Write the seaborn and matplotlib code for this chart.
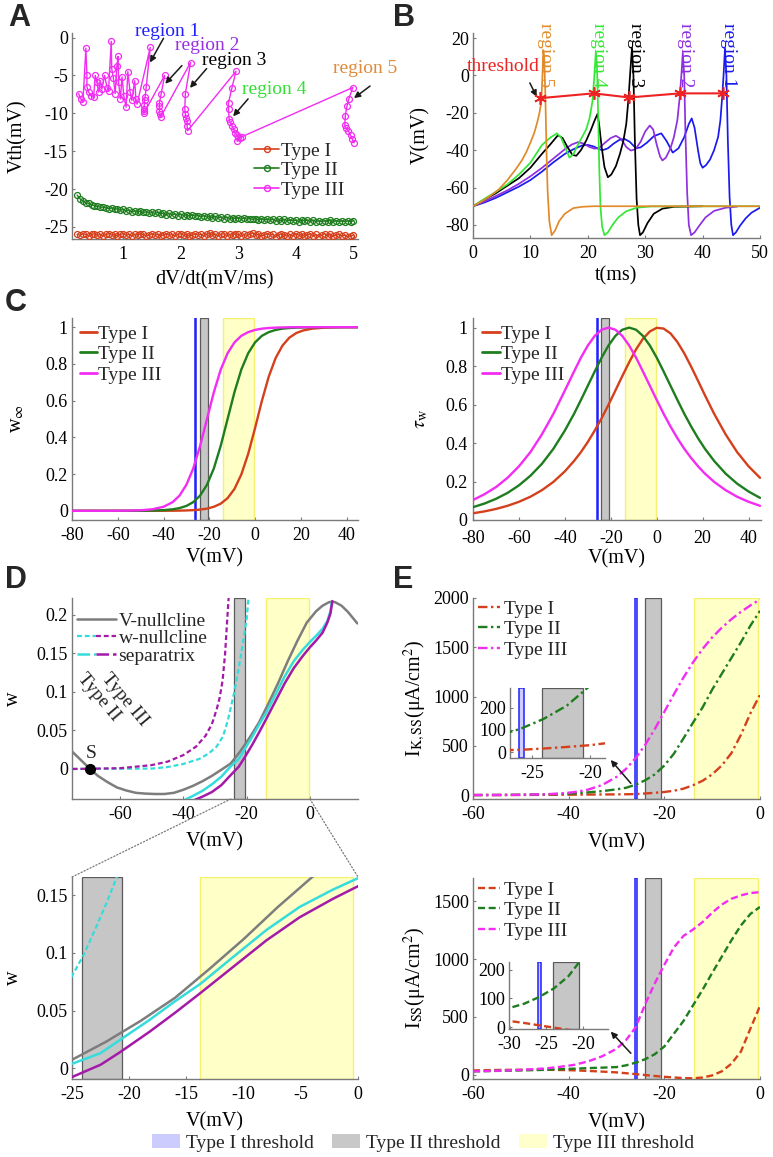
import numpy as np
import matplotlib
matplotlib.use("Agg")
import matplotlib.pyplot as plt
import seaborn as sns
from matplotlib.lines import Line2D
from matplotlib.patches import Patch, ConnectionPatch
from matplotlib.legend_handler import HandlerTuple
from matplotlib.ticker import FuncFormatter

# ---------------- DATA ----------------
# Panel A : threshold vs dV/dt
A_x12 = np.round(np.arange(0.20, 5.001, 0.05), 2)
A_typeI = [-26.0,-26.1,-25.9,-26.0,-26.2,-26.0,-25.9,-26.1,-26.0,-26.2,
           -26.0,-25.9,-26.1,-26.0,-26.2,-26.0,-25.9,-26.1,-26.0,-26.2,
           -26.0,-26.1,-25.9,-26.0,-26.2,-26.1,-25.9,-26.1,-26.0,-26.2,
           -26.1,-25.9,-26.1,-26.0,-26.2,-26.0,-25.9,-26.1,-26.0,-26.2,
           -26.1,-25.9,-26.1,-26.0,-26.2,-26.0,-25.8,-26.1,-26.0,-26.2,
           -26.0,-25.9,-26.2,-26.0,-26.1,-25.9,-26.0,-26.2,-26.0,-26.1,
           -26.0,-25.8,-26.1,-26.0,-26.2,-26.1,-25.9,-26.1,-26.0,-26.3,
           -26.1,-25.9,-26.1,-26.2,-26.0,-26.2,-25.9,-26.1,-26.0,-26.2,
           -26.1,-25.9,-26.2,-26.0,-26.3,-26.1,-25.9,-26.2,-26.0,-26.2,
           -26.1,-26.0,-26.2,-26.1,-26.3,-26.2,-26.1]
A_typeII = [-20.8,-21.3,-21.6,-21.8,-21.9,-22.1,-22.2,-22.3,-22.4,-22.4,
            -22.5,-22.6,-22.5,-22.7,-22.6,-22.8,-22.7,-22.9,-22.8,-23.0,
            -22.9,-23.1,-22.9,-23.1,-23.0,-23.2,-23.1,-23.2,-23.1,-23.3,
            -23.2,-23.4,-23.2,-23.4,-23.3,-23.5,-23.3,-23.5,-23.4,-23.6,
            -23.4,-23.6,-23.5,-23.7,-23.5,-23.7,-23.6,-23.8,-23.6,-23.8,
            -23.7,-23.9,-23.7,-23.9,-23.8,-23.9,-23.8,-24.0,-23.8,-24.0,
            -23.9,-24.0,-23.9,-24.1,-23.9,-24.1,-24.0,-24.1,-24.0,-24.2,
            -24.0,-24.2,-24.0,-24.2,-24.1,-24.2,-24.1,-24.3,-24.1,-24.2,
            -24.1,-24.3,-24.1,-24.3,-24.2,-24.3,-24.2,-24.3,-24.1,-24.3,
            -24.2,-24.3,-24.2,-24.3,-24.2,-24.3,-24.2]
A_x3 = [0.224,0.264,0.30,0.351,0.369,0.369,0.398,0.444,0.485,0.514,0.542,0.572,0.60,0.63,
        0.676,0.72,0.745,0.792,0.80,0.83,0.86,0.89,0.91,0.92,0.95,0.98,1.01,1.05,1.08,1.12,
        1.15,1.20,1.22,1.24,
        1.47,1.40,1.38,1.37,1.366,1.36,1.354,1.36,
        1.72,1.66,1.63,1.63,1.63,1.64,1.65,
        2.17,2.08,2.07,2.08,2.09,2.11,2.11,2.12,
        2.96,2.89,2.83,2.83,2.84,2.86,2.89,2.92,2.95,2.98,3.0,2.98,3.03,3.06,
        4.99,4.92,4.89,4.86,4.85,4.87,4.91,4.95,4.98,5.01]
A_typeIII = [-7.4,-8.1,-8.5,-1.4,-5.0,-6.5,-7.2,-7.7,-7.9,-5.0,-5.9,-7.2,-5.7,-6.8,
             -5.0,-6.6,-7.0,-0.5,-4.1,-5.4,-7.4,-3.7,-2.5,-5.9,-8.1,-5.2,-7.7,-9.2,-4.5,-7.2,
             -8.3,-5.7,-8.1,-8.8,
             -1.3,-6.5,-7.9,-8.3,-8.9,-9.4,-9.7,-10.0,
             -5.0,-7.4,-8.6,-9.1,-9.7,-10.1,-10.5,
             -3.3,-7.4,-9.4,-10.1,-10.6,-11.0,-11.7,-12.3,
             -4.45,-6.6,-8.6,-9.4,-10.7,-11.2,-11.7,-12.1,-12.6,-12.9,-13.1,-13.7,-13.2,-13.1,
             -6.6,-8.1,-9.0,-10.3,-11.5,-11.9,-12.3,-12.9,-13.4,-13.9]

# Panel B : voltage traces
B_t5 = [0,1.5,3,4.5,6,7.5,8.5,9.3,10,10.7,11.2,11.6,11.9,12.1,12.25,12.4,12.6,12.8,13.0,13.3,13.7,14.3,15.0,16.0,17.5,19,21,50]
B_v5 = [-70,-67.5,-64.5,-61,-56,-50,-45.5,-41,-36,-30.5,-25,-19.7,-14,0,13.5,10,-10,-40,-62,-78,-85.5,-83,-78,-74,-71,-70.3,-70,-70]
B_t4 = [0,2,4,6,8,10,12,13.5,14.6,15.3,16.0,16.8,17.5,18.3,19.0,19.7,20.3,20.8,21.1,21.4,21.6,21.8,22.0,22.2,22.5,22.9,23.5,24.3,25.3,26.7,28.5,31,50]
B_v4 = [-70,-66,-62.3,-58.3,-53,-46.7,-37.3,-33.2,-31,-33,-38,-44,-42,-37,-33,-29,-23,-14,-2,12.5,5,-20,-50,-70,-81,-85.5,-84,-80,-76,-72.7,-70.8,-70.1,-70]
B_t3 = [0,2,4,6,8,10,12,13.5,14.8,15.6,16.4,17.3,18.0,18.8,19.7,20.5,21.2,21.7,22.0,22.4,22.9,23.5,24.1,24.9,25.6,26.2,26.7,27.1,27.4,27.7,27.95,28.2,28.5,28.8,29.1,29.6,30.4,31.5,33,35,40]
B_v3 = [-70,-66.5,-63,-59,-55,-49.4,-42,-36.8,-32,-33.5,-38,-42.5,-43,-40,-35,-29.5,-24,-20.6,-27,-38,-49,-54.5,-53,-48.5,-42,-35,-26,-12,2,14.7,0,-35,-66,-80,-85.5,-84,-79,-74,-71.3,-70.3,-70]
B_t2 = [0,2,4,6,8,10,12,14,16,17.2,18.3,19.3,20.3,21.2,22,23,24,24.9,25.8,26.7,27.5,28.3,29.2,30.0,30.8,31.4,32,32.6,33.0,33.6,34.4,35.0,35.6,36.0,36.3,36.55,36.8,37.0,37.3,37.6,38.0,38.6,39.4,40.5,42,44,46]
B_v2 = [-70,-67.5,-64.5,-61.5,-58,-54,-49.5,-44.5,-39.5,-37,-35.7,-36.5,-38.3,-39.2,-38.8,-36,-33.5,-32.3,-34,-38.3,-40.2,-39.5,-35.5,-30,-26.8,-29,-37,-43.5,-45.5,-44,-39,-33,-24,-12,0,12,0,-30,-62,-80,-85.5,-84,-80.5,-76,-72.5,-70.8,-70.2]
B_t1 = [0,2,4,6,8,10,12,14,16,17.5,19,20,21,22,22.6,23.5,24.5,25.5,26.4,27.3,28.4,29.2,30.3,31.5,32.8,33.7,34.8,35.8,36.8,37.6,38.1,38.6,39.2,39.6,40.0,40.6,41.3,42,42.7,43.1,43.4,43.65,43.9,44.15,44.4,44.7,45.0,45.3,45.8,46.5,47.5,48.5,50]
B_v1 = [-70,-68,-65.5,-62.5,-59.5,-56,-51.5,-46.5,-42,-39.5,-37.5,-37.2,-38,-39.5,-40,-39,-36.5,-34.5,-34,-35.5,-39,-38.5,-36,-32.5,-31,-35,-41.3,-39,-33,-26,-23,-28,-40,-47,-49.4,-48,-45,-40,-33,-24,-12,0,14.4,0,-35,-65,-80,-85.5,-84,-80.5,-76.5,-73.5,-70.8]
B_thr_t = [11.6, 21.0, 27.2, 36.1, 43.5]
B_thr_v = [-12.2, -9.6, -11.8, -9.6, -9.6]

# Panel C : gating curves
C_V = [-80,-75,-70,-65,-60,-55,-50,-45,-40,-36,-33,-30,-27,-24,-21,-18,-15,-12,-9,-6,-3,0,3,6,9,12,15,18,21,25,30,35,40,45]
winf_I = [0,0,0,0,0,0,0,0.0001,0.0003,0.0006,0.0011,0.002,0.0037,0.0067,0.012,0.022,0.039,0.069,0.119,0.198,0.310,0.450,0.599,0.731,0.832,0.900,0.943,0.968,0.982,0.992,0.997,0.999,1.0,1.0]
winf_II = [0,0,0,0,0.0001,0.0002,0.0005,0.0014,0.0037,0.0082,0.0148,0.0266,0.0474,0.083,0.142,0.231,0.354,0.5,0.646,0.769,0.858,0.917,0.953,0.973,0.985,0.992,0.9955,0.9975,0.9986,0.9994,1,1,1,1]
winf_III = [0,0,0.0001,0.0002,0.0004,0.0011,0.003,0.0082,0.0219,0.0474,0.083,0.142,0.231,0.354,0.5,0.646,0.769,0.858,0.917,0.953,0.973,0.985,0.992,0.9955,0.9975,0.9986,0.9994,1,1,1,1,1,1,1]
tau_I = [0.035,0.0447,0.0575,0.0737,0.0945,0.121,0.155,0.198,0.253,0.307,0.353,0.406,0.465,0.529,0.599,0.673,0.748,0.820,0.887,0.942,0.980,0.999,0.995,0.970,0.925,0.866,0.797,0.723,0.648,0.552,0.445,0.353,0.279,0.219]
tau_II = [0.0667,0.0855,0.110,0.1406,0.180,0.23,0.292,0.370,0.465,0.552,0.624,0.698,0.772,0.844,0.907,0.957,0.989,1.0,0.989,0.957,0.907,0.844,0.772,0.698,0.624,0.552,0.486,0.425,0.370,0.307,0.241,0.189,0.148,0.115]
tau_III = [0.104,0.134,0.171,0.219,0.279,0.353,0.445,0.552,0.673,0.772,0.844,0.907,0.957,0.989,1.0,0.989,0.957,0.907,0.844,0.772,0.698,0.624,0.552,0.486,0.425,0.370,0.322,0.279,0.241,0.198,0.155,0.121,0.0945,0.0737]

# Panel D : phase plane
VN_V = [-75,-72,-69.5,-67,-64,-61,-58,-55,-52,-49,-46,-43,-40,-37,-34,-31,-28,-25,-22,-19,-16,-13,-10,-7,-4,-1,2,4,6,7,8,10,12,15]
VN_w = [0.022,0.010,0.0,-0.009,-0.017,-0.024,-0.028,-0.031,-0.032,-0.0325,-0.0325,-0.031,-0.027,-0.022,-0.016,-0.009,-0.001,0.0072,0.023,0.041,0.061,0.086,0.112,0.140,0.166,0.19,0.205,0.212,0.2165,0.2172,0.2165,0.212,0.204,0.189]
SEPc_V = [-39.5,-37,-34,-31,-28,-25,-22.5,-20.8,-18.2,-16,-13.8,-10.9,-8,-5.1,-2.2,0,2,4,5.5,6.5,6.9]
SEPc_w = [-0.04,-0.035,-0.0285,-0.020,-0.010,0.0037,0.013,0.0245,0.042,0.058,0.073,0.0966,0.12,0.14,0.155,0.165,0.173,0.182,0.192,0.205,0.216]
SEPm_V = [-36.3,-34,-31,-28,-25,-22.5,-20.8,-18.2,-16,-13.8,-10.9,-8,-5.1,-2.2,0,2,4,5.5,6.5,7.1]
SEPm_w = [-0.04,-0.036,-0.030,-0.021,-0.0078,0.0029,0.0138,0.0317,0.048,0.065,0.088,0.111,0.131,0.147,0.158,0.167,0.177,0.19,0.202,0.218]
WNm_V = [-75,-60,-55,-50,-45,-40,-36,-33,-31,-29.5,-28.5,-27.6,-26.8,-26.2,-25.7]
WNm_w = [0,0.001,0.003,0.005,0.0095,0.018,0.029,0.043,0.058,0.077,0.093,0.115,0.15,0.19,0.222]
WNc_V = [-75,-50,-45,-40,-35,-32,-29.5,-27.5,-26,-25,-24,-23,-22,-21,-20,-19.4]
WNc_w = [0,0.0005,0.0025,0.0065,0.013,0.02,0.029,0.042,0.062,0.08,0.098,0.12,0.143,0.168,0.195,0.222]
S_point = (-69.5, 0.0)

# Panel E : steady-state currents
E_V = [-60,-55,-50,-45,-42,-39,-36,-33,-30,-28,-26,-24,-22,-20,-18,-16,-14,-12,-10,-8,-6,-4,-2,0]
IK_I = [0,0,1,2,3,4,5,6,7,8,10,16,23,31,44,65,100,145,210,300,424,610,830,1017]
IK_II = [0,1,3,7,11,17,27,40,58,74,105,150,210,300,420,575,735,890,1070,1230,1390,1550,1720,1870]
IK_III = [0.2,0.8,2.4,7.7,15,29,54,102,184,266,375,510,670,845,1023,1193,1347,1483,1600,1698,1784,1859,1925,1986]
ISS_I = [38,42,44,44,42,39,34,28,21,14,6,-2,-10,-17,-23,-28,-30,-23,-5,30,95,200,400,595]
ISS_II = [30,34,38,43,48,53,58,62,67,82,105,135,178,245,355,465,600,735,880,1020,1160,1290,1390,1450]
ISS_III = [30,35,42,55,68,85,115,160,225,300,410,610,790,950,1100,1200,1255,1320,1400,1470,1520,1550,1570,1578]

# threshold ranges (mV)
BLUE_BAND = (-26.1, -25.7)
GRAY_BAND = (-24.1, -20.6)
YELLOW_BAND = (-13.8, -0.4)

TYPES = ["Type I", "Type II", "Type III"]

# ---------------- STYLE ----------------
sns.set_theme(style="ticks")
plt.rcParams.update({
    "font.family": ["Liberation Serif", "DejaVu Serif"],
    "mathtext.fontset": "stix",
    "axes.unicode_minus": False,
    "xtick.direction": "in", "ytick.direction": "in",
    "xtick.bottom": True, "ytick.left": True,
    "xtick.major.size": 2.5, "ytick.major.size": 2.5,
    "xtick.major.width": 0.8, "ytick.major.width": 0.8,
    "xtick.color": "#7a7a7a", "ytick.color": "#7a7a7a",
    "xtick.labelcolor": "black", "ytick.labelcolor": "black",
    "xtick.labelsize": 13, "ytick.labelsize": 13,
    "axes.edgecolor": "#7a7a7a", "axes.linewidth": 1.0,
    "axes.labelsize": 14.5, "axes.labelcolor": "black",
    "xtick.major.pad": 5, "ytick.major.pad": 3,
    "legend.fontsize": 14,
})

RED, GREEN, MAG = "#d5401c", "#1e7d1e", "#f22cf2"
CYAN, PURP = "#35dcdc", "#a41aa8"

W, H = 773, 1157
fig = plt.figure(figsize=(W / 100, H / 100), dpi=100)

def add_ax(l, t, r, b):
    ax = fig.add_axes([l / W, 1 - b / H, (r - l) / W, (b - t) / H])
    ax.spines[["top", "right"]].set_visible(False)
    ax.xaxis.set_major_formatter(FuncFormatter(lambda v, p: "%g" % v))
    ax.yaxis.set_major_formatter(FuncFormatter(lambda v, p: "%g" % v))
    return ax

def sline(ax, x, y, color, lw=1.6, ls="-", z=3, **kw):
    sns.lineplot(x=np.asarray(x, float), y=np.asarray(y, float), ax=ax, color=color,
                 linewidth=lw, linestyle=ls, sort=False, estimator=None, legend=False,
                 zorder=z, **kw)

def bands(ax, blue=True):
    if blue:
        ax.axvspan(*BLUE_BAND, facecolor="#ccccff", edgecolor="#2020ff", lw=1.1, zorder=1)
    ax.axvspan(*GRAY_BAND, facecolor="#c6c6c6", edgecolor="#5a5a5a", lw=0.9, zorder=1)
    ax.axvspan(*YELLOW_BAND, facecolor="#ffffc8", edgecolor="#f6f070", lw=1.0, zorder=1)

def labels(ax, xl, yl, xy=-0.15, yx=-0.175):
    ax.set_xlabel(xl)
    ax.set_ylabel(yl)
    ax.xaxis.set_label_coords(0.5, xy)
    ax.yaxis.set_label_coords(yx, 0.5)

def arrow(ax, head, tail):
    ax.annotate("", xy=head, xytext=tail,
                arrowprops=dict(arrowstyle="-|>", color="k", lw=1.1, mutation_scale=9,
                                shrinkA=0, shrinkB=0), annotation_clip=False)

LEGKW = dict(frameon=False, borderaxespad=0, borderpad=0.1, loc="upper left")

# ---------------- PANEL A ----------------
axA = add_ax(72, 33, 358, 239)
mk = dict(marker="o", markerfacecolor="none", markersize=4.3, markeredgewidth=0.9)
sline(axA, A_x12, A_typeI, RED, lw=1.0, markeredgecolor=RED, **mk)
sline(axA, A_x12, A_typeII, GREEN, lw=1.0, markeredgecolor=GREEN, **mk)
sline(axA, A_x3, A_typeIII, MAG, lw=1.0, markeredgecolor=MAG, **mk)
axA.set_xlim(0.11, 5.08)
axA.set_ylim(-26.6, 0.6)
axA.set_xticks([1, 2, 3, 4, 5])
axA.set_yticks([-25, -20, -15, -10, -5, 0])
labels(axA, "dV/dt(mV/ms)", "Vth(mV)", xy=-0.15, yx=-0.155)
hA = [Line2D([], [], color=c, lw=1.2, marker="o", mfc="none", mec=c, ms=4.3) for c in (RED, GREEN, MAG)]
axA.legend(hA, TYPES, bbox_to_anchor=(0.63, 0.48), handlelength=1.3, handletextpad=0.1,
           labelspacing=0.1, **LEGKW)
A_texts = [("region 1", (1.76, 0.75), "#2020ff", (1.465, -3.3), (1.70, -0.1)),
           ("region 2", (2.46, -1.0), "#9a30e0", (1.73, -6.1), (2.02, -3.7)),
           ("region 3", (2.92, -3.0), "black", (2.16, -6.65), (2.45, -4.1)),
           ("region 4", (3.62, -6.8), "#35e035", (2.91, -10.4), (3.17, -8.1)),
           ("region 5", (5.2, -4.1), "#e08a3a", (5.01, -8.0), (5.29, -6.4))]
for txt, pos, col, head, tail in A_texts:
    axA.text(*pos, txt, color=col, fontsize=14, ha="center", va="center")
    arrow(axA, head, tail)

# ---------------- PANEL B ----------------
axB = add_ax(473, 33, 760, 238)
B_traces = [(B_t1, B_v1, "#1a1aee", "region 1", 43.0),
            (B_t2, B_v2, "#8e2fe0", "region 2", 35.5),
            (B_t3, B_v3, "black", "region 3", 26.8),
            (B_t4, B_v4, "#33e833", "region 4", 20.4),
            (B_t5, B_v5, "#e08a2a", "region 5", 11.2)]
for t, v, col, lab, xt in B_traces:
    sline(axB, t, v, col, lw=1.25)
    axB.text(xt, 28, lab, color=col, fontsize=14, rotation=-90, ha="left", va="top")
sline(axB, B_thr_t, B_thr_v, "#ee2222", lw=1.5, z=5, marker=(6, 2, 0), markersize=9,
      markeredgecolor="#ee2222", markeredgewidth=1.2)
axB.text(11.6, 5, "threshold", color="#ee2222", fontsize=14, ha="right", va="center")
arrow(axB, (11.1, -11.4), (9.9, -4))
axB.set_xlim(0, 50)
axB.set_ylim(-87, 22.7)
axB.set_xticks([0, 10, 20, 30, 40, 50])
axB.set_yticks([-80, -60, -40, -20, 0, 20])
labels(axB, "t(ms)", "V(mV)", xy=-0.14, yx=-0.15)

# ---------------- PANEL C ----------------
axC1 = add_ax(72, 318, 358, 520)
bands(axC1)
for y, c in zip((winf_I, winf_II, winf_III), (RED, GREEN, MAG)):
    sline(axC1, C_V, y, c, lw=1.7)
axC1.set_xlim(-80, 45)
axC1.set_ylim(-0.05, 1.05)
axC1.set_xticks([-80, -60, -40, -20, 0, 20, 40])
axC1.set_yticks([0, 0.2, 0.4, 0.6, 0.8, 1])
labels(axC1, "V(mV)", r"w$_{\infty}$", xy=-0.14, yx=-0.16)
hC = [Line2D([], [], color=c, lw=2) for c in (RED, GREEN, MAG)]
axC1.legend(hC, TYPES, bbox_to_anchor=(0.02, 0.975), handlelength=0.9, handletextpad=0.05,
            labelspacing=0.15, **LEGKW)

axC2 = add_ax(473, 318, 761, 520)
bands(axC2)
for y, c in zip((tau_I, tau_II, tau_III), (RED, GREEN, MAG)):
    sline(axC2, C_V, y, c, lw=1.7)
axC2.set_xlim(-80, 45.4)
axC2.set_ylim(0, 1.05)
axC2.set_xticks([-80, -60, -40, -20, 0, 20, 40])
axC2.set_yticks([0, 0.2, 0.4, 0.6, 0.8, 1])
axC2.tick_params(axis="x", pad=7)
axC2.tick_params(axis="y", pad=4)
labels(axC2, "V(mV)", r"$\tau_{\mathrm{w}}$", xy=-0.145, yx=-0.15)
axC2.legend(hC, TYPES, bbox_to_anchor=(0.025, 0.975), handlelength=0.9, handletextpad=0.05,
            labelspacing=0.15, **LEGKW)

# ---------------- PANEL D ----------------
SHORT = (0, (2.2, 1.3))
def draw_phase(ax):
    bands(ax, blue=False)
    sline(ax, WNc_V, WNc_w, CYAN, lw=1.6, ls=SHORT)
    sline(ax, WNm_V, WNm_w, PURP, lw=1.6, ls=SHORT)
    sline(ax, VN_V, VN_w, "#7d7d7d", lw=1.8)
    sline(ax, SEPc_V, SEPc_w, CYAN, lw=1.8)
    sline(ax, SEPm_V, SEPm_w, PURP, lw=1.8)

axD1 = add_ax(72, 598, 358, 799)
draw_phase(axD1)
axD1.plot(*S_point, "o", color="black", ms=7, zorder=6)
axD1.text(S_point[0] + 0.3, 0.009, "S", fontsize=14, ha="center", va="bottom")
axD1.text(-66.8, 0.093, "Type II", fontsize=14, rotation=-50, ha="center", va="center")
axD1.text(-58.6, 0.090, "Type III", fontsize=14, rotation=-50, ha="center", va="center")
axD1.set_xlim(-75.2, 15.2)
axD1.set_ylim(-0.039, 0.222)
axD1.set_xticks([-60, -40, -20, 0])
axD1.set_yticks([0, 0.05, 0.1, 0.15, 0.2])
labels(axD1, "V(mV)", "w", xy=-0.165, yx=-0.17)
LONG = (0, (5, 1.6))
hD = [Line2D([], [], color="#7d7d7d", lw=1.8),
      (Line2D([], [], color=CYAN, lw=1.6, ls=SHORT), Line2D([], [], color=PURP, lw=1.6, ls=SHORT)),
      (Line2D([], [], color=CYAN, lw=1.8, ls=LONG), Line2D([], [], color=PURP, lw=1.8, ls=LONG))]
axD1.legend(hD, ["V-nullcline", "w-nullcline", "separatrix"], bbox_to_anchor=(0.01, 0.94),
            handlelength=2.0, handletextpad=0.15, labelspacing=0.0,
            handler_map={tuple: HandlerTuple(ndivide=None, pad=0.0)}, **LEGKW)

axD2 = add_ax(72, 877, 358, 1079)
draw_phase(axD2)
axD2.set_xlim(-25, 0)
axD2.set_ylim(-0.0095, 0.166)
axD2.set_xticks([-25, -20, -15, -10, -5, 0])
axD2.set_yticks([0, 0.05, 0.1, 0.15])
labels(axD2, "V(mV)", "w", xy=-0.165, yx=-0.17)
for xv in (-25, 0):
    con = ConnectionPatch(xyA=(xv, -0.039), coordsA=axD1.transData,
                          xyB=(xv, 0.166), coordsB=axD2.transData,
                          linestyle=":", color="#777777", lw=0.9)
    fig.add_artist(con)

# ---------------- PANEL E ----------------
DASHDOT = (0, (4, 1.5, 1, 1.5))
DASH = (0, (3, 1.5))

def e_panel(box, curves, ls, ylim, yticks, ylab, inbox, inxlim, inylim, inxt, tail, head, legy):
    ax = add_ax(*box)
    bands(ax)
    for y, c in zip(curves, (RED, GREEN, MAG)):
        sline(ax, E_V, y, c, lw=1.7, ls=ls)
    ax.set_xlim(-60, 0)
    ax.set_ylim(*ylim)
    ax.set_xticks([-60, -40, -20, 0])
    ax.set_yticks(yticks)
    labels(ax, "V(mV)", ylab, xy=-0.17, yx=-0.155)
    hE = [Line2D([], [], color=c, lw=1.7, ls=ls) for c in (RED, GREEN, MAG)]
    ax.legend(hE, TYPES, bbox_to_anchor=(0.01, legy), handlelength=1.15, handletextpad=0.2,
              labelspacing=0.15, **LEGKW)
    arrow(ax, head, tail)
    axi = add_ax(*inbox)
    axi.set_facecolor("white")
    bands(axi)
    for y, c in zip(curves[:2], (RED, GREEN)):
        sline(axi, E_V, y, c, lw=1.7, ls=ls)
    axi.set_xlim(*inxlim)
    axi.set_ylim(*inylim)
    axi.set_xticks(inxt)
    axi.set_yticks([0, 100, 200])
    axi.set_xlabel("")
    axi.set_ylabel("")
    return ax

e_panel((473, 598, 760, 799), (IK_I, IK_II, IK_III), DASHDOT, (-40, 2000),
        [0, 500, 1000, 1500, 2000], r"I$_{\mathrm{K,SS}}$(μA/cm$^2$)",
        (510, 688, 605, 758), (-26.9, -18.7), (-27, 290), [-25, -20],
        (-27, 119), (-31.2, 356), 1.0)
e_panel((473, 878, 760, 1079), (ISS_I, ISS_II, ISS_III), DASH, (-36, 1700),
        [0, 500, 1000, 1500], r"I$_{\mathrm{SS}}$(μA/cm$^2$)",
        (509, 962, 608, 1029), (-30.1, -16.6), (-7, 228), [-30, -25, -20],
        (-27, 186), (-31.2, 373), 0.995)

# ---------------- panel letters ----------------
for lab, (x, y) in {"A": (8, 3), "B": (393, 3), "C": (5, 288), "D": (5, 565), "E": (393, 565)}.items():
    fig.text(x / W, 1 - y / H, lab, fontsize=22, fontweight="bold",
             family=["Liberation Sans", "DejaVu Sans"], ha="left", va="top")

# ---------------- bottom legend ----------------
hB = [Patch(facecolor="#ccccff", edgecolor="none"),
      Patch(facecolor="#c8c8c8", edgecolor="none"),
      Patch(facecolor="#ffffcc", edgecolor="none")]
fig.legend(hB, ["Type I threshold", "Type II threshold", "Type III threshold"],
           loc="center", bbox_to_anchor=(0.547, 1 - 1143 / H), ncol=3, frameon=False,
           handlelength=1.45, handleheight=0.75, handletextpad=0.3, columnspacing=0.95,
           fontsize=14, borderpad=0)

fig.savefig("out.png", dpi=100)
